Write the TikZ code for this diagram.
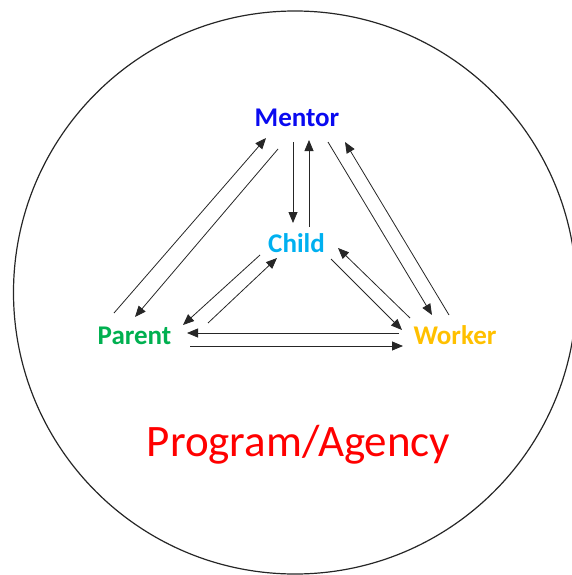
\documentclass[tikz,border=0pt]{standalone}
\usepackage{fontspec}
\setmainfont{Carlito}
\usetikzlibrary{arrows.meta}
\definecolor{mentorc}{RGB}{10,10,240}
\definecolor{childc}{RGB}{0,176,240}
\definecolor{parentc}{RGB}{0,176,80}
\definecolor{workerc}{RGB}{255,192,0}
\definecolor{progc}{RGB}{255,0,0}
\begin{document}
\begin{tikzpicture}[x=1pt,y=-1pt,
  lbl/.style={font=\bfseries\fontsize{27}{27}\selectfont, anchor=base, inner sep=0pt},
  arr/.style={-{Triangle[length=11pt,width=9pt]}, line width=0.8pt, draw=black!85}]
\useasboundingbox (0,0) rectangle (572,575);
\draw[line width=1.2pt, draw=black!85] (295,292.5) circle (281.5pt);

\node[lbl, text=mentorc] (M) at (297,127) {Mentor};
\node[lbl, text=childc] (C) at (296.5,252) {Child};
\node[lbl, text=parentc] (P) at (134.5,344) {Parent};
\node[lbl, text=workerc] (W) at (455,344) {Worker};
\node[anchor=base, inner sep=0pt, text=progc, font=\fontsize{45}{45}\selectfont] (G) at (298.5,456) {Program/Agency};

\coordinate (pm1) at (114,313); \coordinate (pm2) at (266,138);
\coordinate (mp1) at (278,149); \coordinate (mp2) at (135,317);
\coordinate (mc1) at (293,142); \coordinate (mc2) at (293,223);
\coordinate (cm1) at (309,227); \coordinate (cm2) at (309,140);
\coordinate (mw1) at (328,142); \coordinate (mw2) at (432,315);
\coordinate (wm1) at (449,315); \coordinate (wm2) at (345,142);
\coordinate (cw1) at (331,259); \coordinate (cw2) at (402,330);
\coordinate (wc1) at (410,318); \coordinate (wc2) at (338,248);
\coordinate (cp1) at (260,255); \coordinate (cp2) at (183,325);
\coordinate (pc1) at (208,323); \coordinate (pc2) at (277,258);
\coordinate (wp1) at (399,333); \coordinate (wp2) at (187,333);
\coordinate (pw1) at (190,346); \coordinate (pw2) at (403,346);

\foreach \a/\b in {pm1/pm2, mp1/mp2, mc1/mc2, cm1/cm2, mw1/mw2, wm1/wm2,
  cw1/cw2, wc1/wc2, cp1/cp2, pc1/pc2, wp1/wp2, pw1/pw2}
  \draw[arr] (\a) -- (\b);
\end{tikzpicture}
\end{document}
